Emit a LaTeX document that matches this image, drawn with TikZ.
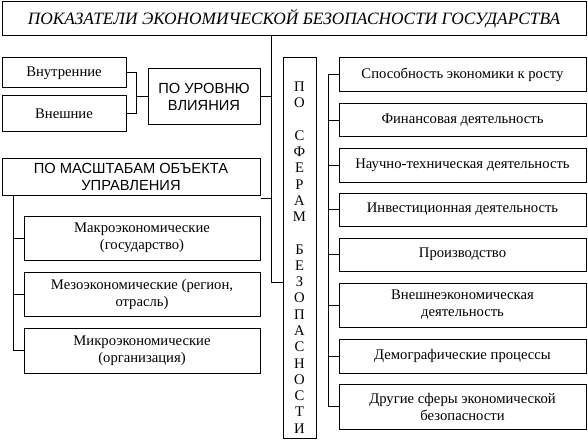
\documentclass[tikz,border=0pt]{standalone}
\usepackage{fontspec}
\setmainfont{Liberation Serif}
\newfontfamily\capsfont{Liberation Sans}

\tikzset{
  box/.style={draw, line width=0.75, inner sep=1pt, align=center,
              font=\fontsize{11}{12.75}\selectfont},
  capbox/.style={box, font=\capsfont\fontsize{11}{12.75}\selectfont},
  rbox/.style={box, minimum width=185.25pt},
  sbox/.style={box, minimum width=177pt, minimum height=33pt},
  conn/.style={line width=0.75},
}

\begin{document}
\begin{tikzpicture}[x=0.75pt,y=0.75pt,yscale=-1,xscale=1]
\useasboundingbox (0,0) rectangle (588,442);

% Title
\node[box, minimum width=438pt, minimum height=25.5pt, font=\fontsize{13}{15}\selectfont\itshape] (title) at (294,19) {ПОКАЗАТЕЛИ ЭКОНОМИЧЕСКОЙ БЕЗОПАСНОСТИ ГОСУДАРСТВА};

% Left branch: level of influence
\node[box, minimum width=93pt, minimum height=22.5pt] (inner) at (64,73) {Внутренние};
\node[box, minimum width=93pt, minimum height=27pt] (outer) at (64,114) {Внешние};
\node[capbox, minimum width=84pt, minimum height=42pt] (level) at (204,97) {ПО УРОВНЮ\\ВЛИЯНИЯ};

% Left branch: scale of object
\node[capbox, minimum width=193.5pt, minimum height=27.75pt] (scale) at (131,176.5) {ПО МАСШТАБАМ ОБЪЕКТА\\УПРАВЛЕНИЯ};
\node[sbox] (macro) at (142,238) {Макроэкономические\\(государство)};
\node[sbox] (meso) at (142,294) {Мезоэкономические (регион,\\отрасль)};
\node[sbox, minimum height=33.75pt] (micro) at (142,350.5) {Микроэкономические\\(организация)};

% Spheres of security
\node[box, minimum width=24.75pt, minimum height=285pt] (spheres) at (299.5,248) {};
\node[align=center, inner sep=0pt, font=\fontsize{11}{12.2}\selectfont] (spherestext) at (299.5,257.5) {П\\О\\[12.2pt]С\\Ф\\Е\\Р\\А\\М\\[12.2pt]Б\\Е\\З\\О\\П\\А\\С\\Н\\О\\С\\Т\\И};

\node[rbox, minimum height=25.5pt] (growth) at (462.5,75) {Способность экономики к росту};
\node[rbox, minimum height=24.75pt] (finance) at (462.5,120.5) {Финансовая деятельность};
\node[rbox, minimum height=25.5pt] (science) at (462.5,165) {Научно-техническая деятельность};
\node[rbox, minimum height=24.75pt] (invest) at (462.5,209.5) {Инвестиционная деятельность};
\node[rbox, minimum height=24.75pt] (prod) at (462.5,254.5) {Производство};
\node[rbox, minimum height=33pt] (foreign) at (462.5,305) {Внешнеэкономическая\\деятельность};
\node[rbox, minimum height=25.5pt] (demo) at (462.5,356) {Демографические процессы};
\node[rbox, minimum height=33.75pt] (other) at (462.5,406.5) {Другие сферы экономической\\безопасности};

% Bracket points
\coordinate (trunk) at (271,282);
\coordinate (lbr) at (136,0);
\coordinate (sbr) at (13,0);
\coordinate (rbr) at (328,0);
\coordinate (sc) at ([yshift=2.25pt]scale.south east);

% Trunk
\draw[conn] (title.south -| trunk) -- (trunk) -- (trunk -| spheres.west);
\draw[conn] (level.east) -- (level.east -| trunk);
\draw[conn] (sc) -- (sc -| trunk);

% Level bracket
\draw[conn] (inner.east) -- (inner.east -| lbr) -- (outer.east -| lbr) -- (outer.east);
\draw[conn] (level.west) -- (level.west -| lbr);

% Scale bracket
\draw[conn] (scale.south -| sbr) -- (micro.west -| sbr) -- (micro.west);
\draw[conn] (macro.west) -- (macro.west -| sbr);
\draw[conn] (meso.west) -- (meso.west -| sbr);

% Spheres bracket
\draw[conn] (growth.west) -- (growth.west -| rbr) -- (other.west -| rbr) -- (other.west);
\foreach \n in {finance,science,invest,prod,foreign,demo}
  \draw[conn] (\n.west) -- (\n.west -| rbr);

\end{tikzpicture}
\end{document}
